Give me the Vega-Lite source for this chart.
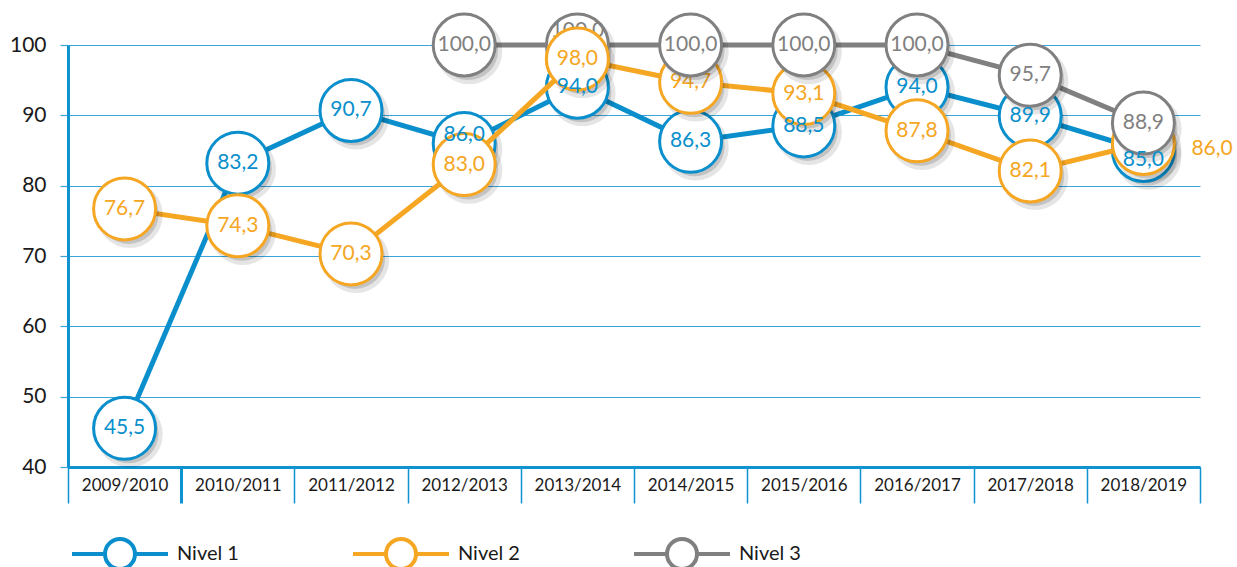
{
  "$schema": "https://vega.github.io/schema/vega-lite/v6.json",
  "autosize": "none",
  "width": 1132,
  "height": 422,
  "padding": {"left": 68, "top": 45, "right": 37, "bottom": 100},
  "background": "white",
  "config": {
    "locale": {"number": {"decimal": ",", "thousands": ".", "grouping": [3], "currency": ["", " €"]}},
    "view": {"stroke": null},
    "font": "Lato"
  },
  "data": {
    "values": [
      {"curso": "2009/2010", "serie": "Nivel 1", "valor": 45.5},
      {"curso": "2010/2011", "serie": "Nivel 1", "valor": 83.2},
      {"curso": "2011/2012", "serie": "Nivel 1", "valor": 90.7},
      {"curso": "2012/2013", "serie": "Nivel 1", "valor": 86.0},
      {"curso": "2013/2014", "serie": "Nivel 1", "valor": 94.0},
      {"curso": "2014/2015", "serie": "Nivel 1", "valor": 86.3},
      {"curso": "2015/2016", "serie": "Nivel 1", "valor": 88.5},
      {"curso": "2016/2017", "serie": "Nivel 1", "valor": 94.0},
      {"curso": "2017/2018", "serie": "Nivel 1", "valor": 89.9},
      {"curso": "2018/2019", "serie": "Nivel 1", "valor": 85.0},
      {"curso": "2009/2010", "serie": "Nivel 2", "valor": 76.7},
      {"curso": "2010/2011", "serie": "Nivel 2", "valor": 74.3},
      {"curso": "2011/2012", "serie": "Nivel 2", "valor": 70.3},
      {"curso": "2012/2013", "serie": "Nivel 2", "valor": 83.0},
      {"curso": "2013/2014", "serie": "Nivel 2", "valor": 98.0},
      {"curso": "2014/2015", "serie": "Nivel 2", "valor": 94.7},
      {"curso": "2015/2016", "serie": "Nivel 2", "valor": 93.1},
      {"curso": "2016/2017", "serie": "Nivel 2", "valor": 87.8},
      {"curso": "2017/2018", "serie": "Nivel 2", "valor": 82.1},
      {"curso": "2018/2019", "serie": "Nivel 2", "valor": 86.0},
      {"curso": "2012/2013", "serie": "Nivel 3", "valor": 100.0},
      {"curso": "2013/2014", "serie": "Nivel 3", "valor": 100.0},
      {"curso": "2014/2015", "serie": "Nivel 3", "valor": 100.0},
      {"curso": "2015/2016", "serie": "Nivel 3", "valor": 100.0},
      {"curso": "2016/2017", "serie": "Nivel 3", "valor": 100.0},
      {"curso": "2017/2018", "serie": "Nivel 3", "valor": 95.7},
      {"curso": "2018/2019", "serie": "Nivel 3", "valor": 88.9}
    ]
  },
  "encoding": {
    "x": {
      "field": "curso",
      "type": "nominal",
      "sort": ["2009/2010", "2010/2011", "2011/2012", "2012/2013", "2013/2014", "2014/2015", "2015/2016", "2016/2017", "2017/2018", "2018/2019"],
      "scale": {"type": "band", "paddingInner": 0, "paddingOuter": 0},
      "bandPosition": 0.5,
      "axis": {
        "title": null,
        "labelAngle": 0,
        "labelFont": "Lato",
        "labelFontSize": 17,
        "labelColor": "#1a1a1a",
        "labelPadding": -26,
        "domainColor": "#0E93D0",
        "domainWidth": 3,
        "tickColor": "#0E93D0",
        "tickWidth": {"condition": {"test": "datum.index == 0", "value": 3}, "value": 1.5},
        "tickSize": 36,
        "tickBand": "extent",
        "grid": false
      }
    },
    "y": {
      "field": "valor",
      "type": "quantitative",
      "scale": {"domain": [40, 100], "nice": false, "zero": false},
      "axis": {
        "title": null,
        "values": [40, 50, 60, 70, 80, 90, 100],
        "format": "d",
        "labelFont": "Lato",
        "labelFontSize": 21,
        "labelColor": "#1a1a1a",
        "labelPadding": 14,
        "tickSize": 8,
        "tickColor": "#3BA5DB",
        "tickWidth": 1.2,
        "domainColor": "#0E93D0",
        "domainWidth": 3,
        "grid": true,
        "gridColor": "#3BA5DB",
        "gridWidth": 1.2
      }
    }
  },
  "layer": [
    {"transform": [{"filter": "datum.serie == 'Nivel 1'"}], "mark": {"type": "line", "strokeWidth": 5},
     "encoding": {"color": {"field": "serie", "type": "nominal", "scale": {"domain": ["Nivel 1", "Nivel 2", "Nivel 3"], "range": ["#0A8FCC", "#F5A623", "#808080"]},
      "legend": {
        "title": null,
        "orient": "none",
        "legendX": 35,
        "legendY": 492,
        "direction": "horizontal",
        "columns": 3,
        "symbolType": "M-3.2,0H-1M1,0H3.2M1,0A1,1 0 1,1 -1,0A1,1 0 1,1 1,0",
        "symbolSize": 900,
        "symbolStrokeWidth": 4,
        "symbolFillColor": "white",
        "labelOffset": 40,
        "labelFont": "Lato",
        "labelFontSize": 20,
        "labelColor": "#1a1a1a",
        "columnPadding": 106,
        "padding": 0,
        "encode": {"symbols": {"update": {"fill": {"value": "white"}, "opacity": {"value": 1}}}}
      }}}},
    {"transform": [{"filter": "datum.serie == 'Nivel 1'"}], "mark": {"type": "point", "shape": "circle", "filled": true, "opacity": 0.1, "size": 4400, "xOffset": 5, "yOffset": 6, "color": "#000000"}},
    {"transform": [{"filter": "datum.serie == 'Nivel 1'"}], "mark": {"type": "point", "shape": "circle", "filled": true, "opacity": 0.15, "size": 3600, "xOffset": 4, "yOffset": 5, "color": "#000000"}},
    {"transform": [{"filter": "datum.serie == 'Nivel 1'"}], "mark": {"type": "point", "shape": "circle", "filled": false, "fill": "white", "fillOpacity": 1, "opacity": 1, "size": 3844, "strokeWidth": 3}, "encoding": {"color": {"field": "serie", "type": "nominal"}}},

    {"transform": [{"filter": "datum.serie == 'Nivel 2'"}], "mark": {"type": "line", "strokeWidth": 5}, "encoding": {"color": {"field": "serie", "type": "nominal"}}},
    {"transform": [{"filter": "datum.serie == 'Nivel 2'"}], "mark": {"type": "point", "shape": "circle", "filled": true, "opacity": 0.1, "size": 4400, "xOffset": 5, "yOffset": 6, "color": "#000000"}},
    {"transform": [{"filter": "datum.serie == 'Nivel 2'"}], "mark": {"type": "point", "shape": "circle", "filled": true, "opacity": 0.15, "size": 3600, "xOffset": 4, "yOffset": 5, "color": "#000000"}},
    {"transform": [{"filter": "datum.serie == 'Nivel 2'"}], "mark": {"type": "point", "shape": "circle", "filled": false, "fill": "white", "fillOpacity": 1, "opacity": 1, "size": 3844, "strokeWidth": 3}, "encoding": {"color": {"field": "serie", "type": "nominal"}}},
    {"transform": [{"filter": "datum.serie == 'Nivel 2' && datum.curso != '2018/2019'"}], "mark": {"type": "text", "font": "Lato", "fontSize": 21, "fill": "#F5A623"}, "encoding": {"text": {"field": "valor", "type": "quantitative", "format": ".1f"}}},

    {"transform": [{"filter": "datum.serie == 'Nivel 3'"}], "mark": {"type": "line", "strokeWidth": 5}, "encoding": {"color": {"field": "serie", "type": "nominal"}}},
    {"transform": [{"filter": "datum.serie == 'Nivel 3'"}], "mark": {"type": "point", "shape": "circle", "filled": true, "opacity": 0.1, "size": 4400, "xOffset": 5, "yOffset": 6, "color": "#000000"}},
    {"transform": [{"filter": "datum.serie == 'Nivel 3'"}], "mark": {"type": "point", "shape": "circle", "filled": true, "opacity": 0.15, "size": 3600, "xOffset": 4, "yOffset": 5, "color": "#000000"}},
    {"transform": [{"filter": "datum.serie == 'Nivel 3'"}], "mark": {"type": "point", "shape": "circle", "filled": false, "fill": "white", "fillOpacity": 1, "opacity": 1, "size": 3844, "strokeWidth": 3}, "encoding": {"color": {"field": "serie", "type": "nominal"}}},
    {"transform": [{"filter": "datum.serie == 'Nivel 3' && datum.curso != '2013/2014'"}], "mark": {"type": "text", "font": "Lato", "fontSize": 21, "fill": "#808080"}, "encoding": {"text": {"field": "valor", "type": "quantitative", "format": ".1f"}}},
    {"transform": [{"filter": "datum.serie == 'Nivel 3' && datum.curso == '2013/2014'"}], "mark": {"type": "text", "font": "Lato", "fontSize": 21, "dy": -14, "fill": "#808080"}, "encoding": {"text": {"field": "valor", "type": "quantitative", "format": ".1f"}}},

    {"transform": [{"filter": "datum.serie == 'Nivel 2' && datum.curso == '2013/2014'"}], "mark": {"type": "point", "shape": "circle", "filled": false, "fill": "white", "fillOpacity": 1, "opacity": 1, "size": 3844, "strokeWidth": 3}, "encoding": {"color": {"field": "serie", "type": "nominal"}}},
    {"transform": [{"filter": "datum.serie == 'Nivel 2' && datum.curso == '2013/2014'"}], "mark": {"type": "text", "font": "Lato", "fontSize": 21, "fill": "#F5A623"}, "encoding": {"text": {"field": "valor", "type": "quantitative", "format": ".1f"}}},

    {"transform": [{"filter": "datum.serie == 'Nivel 1' && datum.curso != '2012/2013' && datum.curso != '2018/2019'"}], "mark": {"type": "text", "font": "Lato", "fontSize": 21, "fill": "#0A8FCC"}, "encoding": {"text": {"field": "valor", "type": "quantitative", "format": ".1f"}}},
    {"transform": [{"filter": "datum.serie == 'Nivel 1' && datum.curso == '2012/2013'"}], "mark": {"type": "text", "font": "Lato", "fontSize": 21, "dy": -8, "fill": "#0A8FCC"}, "encoding": {"text": {"field": "valor", "type": "quantitative", "format": ".1f"}}},
    {"transform": [{"filter": "datum.serie == 'Nivel 1' && datum.curso == '2018/2019'"}], "mark": {"type": "text", "font": "Lato", "fontSize": 21, "dy": 9, "fill": "#0A8FCC"}, "encoding": {"text": {"field": "valor", "type": "quantitative", "format": ".1f"}}},

    {"transform": [{"filter": "datum.serie == 'Nivel 2' && datum.curso == '2018/2019'"}], "mark": {"type": "text", "font": "Lato", "fontSize": 21, "align": "left", "dx": 48, "dy": 6, "fill": "#F5A623"}, "encoding": {"text": {"field": "valor", "type": "quantitative", "format": ".1f"}}}
  ]
}
